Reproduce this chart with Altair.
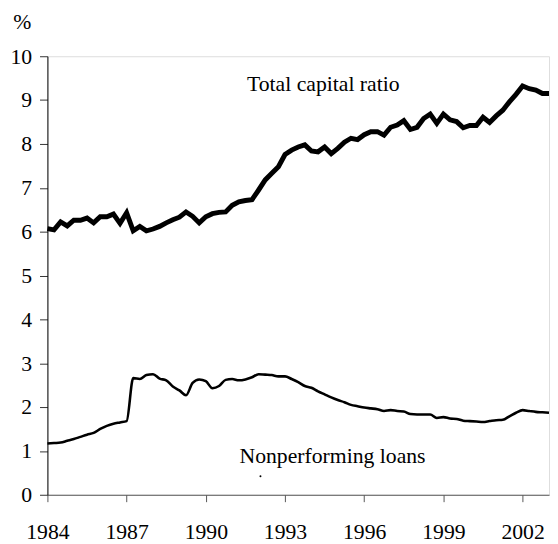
import altair as alt
import pandas as pd

# Quarterly observations, 1984Q1 .. 2003Q1
years = [1984 + 0.25 * i for i in range(77)]

capital_ratio = [
    6.07, 6.04, 6.22, 6.13, 6.26, 6.26, 6.31, 6.20, 6.34, 6.34,
    6.40, 6.19, 6.43, 6.02, 6.12, 6.02, 6.06, 6.12, 6.20, 6.27,
    6.33, 6.45, 6.35, 6.20, 6.34, 6.41, 6.44, 6.45, 6.60, 6.68,
    6.71, 6.73, 6.95, 7.18, 7.33, 7.48, 7.76, 7.86, 7.93, 7.98,
    7.84, 7.82, 7.93, 7.78, 7.90, 8.04, 8.13, 8.10, 8.21, 8.28,
    8.28, 8.20, 8.38, 8.43, 8.53, 8.33, 8.38, 8.58, 8.68, 8.47,
    8.68, 8.55, 8.51, 8.37, 8.42, 8.42, 8.61, 8.49, 8.64, 8.77,
    8.96, 9.13, 9.32, 9.26, 9.23, 9.15, 9.15,
]

nonperforming = [
    1.17, 1.18, 1.19, 1.23, 1.27, 1.32, 1.37, 1.41, 1.50, 1.57,
    1.62, 1.65, 1.68, 2.66, 2.64, 2.73, 2.75, 2.65, 2.61, 2.47,
    2.38, 2.27, 2.55, 2.63, 2.59, 2.43, 2.48, 2.62, 2.64, 2.61,
    2.63, 2.68, 2.75, 2.74, 2.73, 2.70, 2.70, 2.64, 2.57, 2.48,
    2.44, 2.36, 2.29, 2.22, 2.16, 2.11, 2.05, 2.02, 1.99, 1.97,
    1.95, 1.91, 1.93, 1.91, 1.90, 1.84, 1.83, 1.83, 1.83, 1.75,
    1.77, 1.74, 1.73, 1.69, 1.68, 1.67, 1.66, 1.68, 1.70, 1.71,
    1.79, 1.87, 1.93, 1.91, 1.89, 1.88, 1.87,
]

label_text = ["Total capital ratio", "Nonperforming loans"]
label_x = [1994.45, 1994.8]
label_y = [9.2, 0.72]

# small stray dot under the lower label
dot_x = [1992.07]
dot_y = [0.42]

x_ticks = [1984, 1987, 1990, 1993, 1996, 1999, 2002]
y_ticks = list(range(0, 11))

FONT = "Liberation Serif"
FS = 22

df = pd.DataFrame({"year": years, "cap": capital_ratio, "npl": nonperforming})
labels = pd.DataFrame({"text": label_text, "x": label_x, "y": label_y})
dots = pd.DataFrame({"x": dot_x, "y": dot_y})

xscale = alt.Scale(domain=[1984, 2003], nice=False, zero=False)
yscale = alt.Scale(domain=[0, 10], nice=False)

xaxis = alt.Axis(
    values=x_ticks, format="d", title=None, grid=False,
    labelFont=FONT, labelFontSize=FS, labelColor="black",
    labelPadding=20, tickSize=7, tickColor="#555", domainColor="#555",
    labelFlush=False, labelOverlap=False,
)
yaxis = alt.Axis(
    values=y_ticks, format="d", grid=False,
    title="%", titleAngle=0, titleFont=FONT, titleFontSize=22,
    titleFontWeight="normal", titleColor="black",
    titleX=-26, titleY=-35, titleAlign="center", titleBaseline="middle",
    labelFont=FONT, labelFontSize=FS, labelColor="black",
    labelPadding=8, tickSize=8, tickColor="#333", domainColor="black",
)

cap_line = alt.Chart(df).mark_line(color="black", strokeWidth=5, strokeJoin="miter").encode(
    x=alt.X("year:Q", scale=xscale, axis=xaxis),
    y=alt.Y("cap:Q", scale=yscale, axis=yaxis),
)

npl_line = alt.Chart(df).mark_line(color="black", strokeWidth=2.6, interpolate="monotone").encode(
    x=alt.X("year:Q", scale=xscale),
    y=alt.Y("npl:Q", scale=yscale),
)

text = alt.Chart(labels).mark_text(
    font=FONT, fontSize=FS, color="black", align="center", baseline="alphabetic"
).encode(
    x=alt.X("x:Q", scale=xscale),
    y=alt.Y("y:Q", scale=yscale),
    text="text:N",
)

dot = alt.Chart(dots).mark_circle(color="black", size=4, opacity=1).encode(
    x=alt.X("x:Q", scale=xscale),
    y=alt.Y("y:Q", scale=yscale),
)

chart = alt.layer(cap_line, npl_line, text, dot).properties(
    width=509,
    height=445,
    padding={"left": 40, "top": 45, "right": 1, "bottom": 46},
    autosize=alt.AutoSizeParams(type="none"),
).configure_view(stroke=None).configure(background="white")

chart.save("out.html", embed_options={"renderer": "svg", "actions": False})
